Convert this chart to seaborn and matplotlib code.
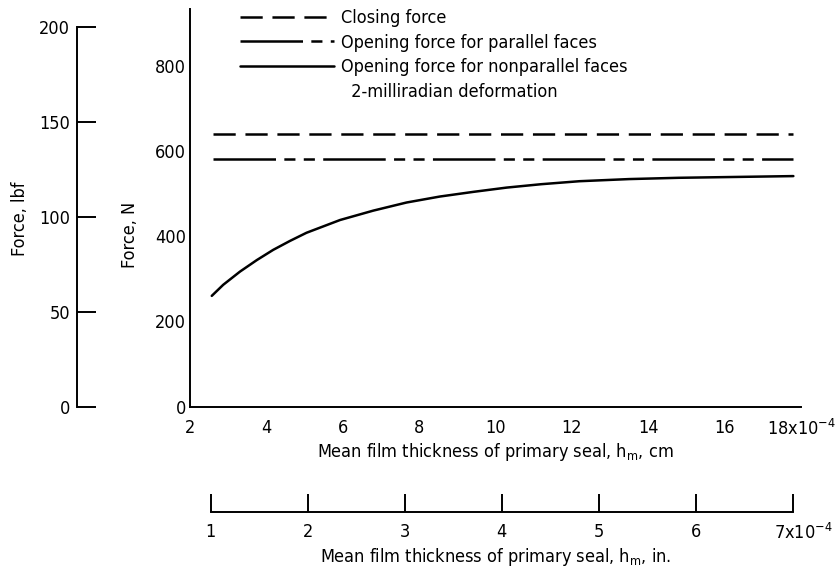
import numpy as np
import pandas as pd
import matplotlib
matplotlib.use('Agg')
import matplotlib.pyplot as plt
import matplotlib.transforms as mtransforms
from matplotlib.lines import Line2D
import seaborn as sns

sns.set_theme(style='white')
plt.rcParams['font.family'] = ['Liberation Sans Narrow', 'DejaVu Sans']
plt.rcParams['font.stretch'] = 'condensed'
plt.rcParams['mathtext.default'] = 'regular'
plt.rcParams['lines.scale_dashes'] = False
plt.rcParams['text.color'] = 'black'
plt.rcParams['axes.labelcolor'] = 'black'

# mean film thickness, x1e-4 cm  /  force, N
h_cm = [2.57, 2.87, 3.31, 3.75, 4.18, 4.62, 5.05, 5.93, 6.80, 7.67, 8.54,
        9.42, 10.29, 11.2, 12.2, 13.5, 14.8, 16.3, 17.8]
open_nonpar = [260, 286, 317, 344, 368, 389, 408, 438, 460, 479, 493,
               504, 514, 522, 529, 534, 537, 539, 541]
h_flat = [2.6, 17.8]
closing = [639, 639]
open_par = [582, 582]

x_ticks_cm = [2, 4, 6, 8, 10, 12, 14, 16, 18]
x_labels_cm = ['2', '4', '6', '8', '10', '12', '14', '16', '18x10$^{-4}$']
x_ticks_in = [1, 2, 3, 4, 5, 6, 7]
x_labels_in = ['1', '2', '3', '4', '5', '6', '7x10$^{-4}$']
y_ticks_N = [0, 200, 400, 600, 800]
y_ticks_lbf = [0, 50, 100, 150, 200]

N_PER_LBF = 4.448
CM_PER_IN = 2.54
FS = 13

df_curve = pd.DataFrame({'h': h_cm, 'F': open_nonpar})

fig = plt.figure(figsize=(8.4, 5.73), dpi=100)
ax = fig.add_axes([190/840, 166.3/573, 611/840, 397.7/573])

sns.lineplot(x=h_flat, y=closing, ax=ax, color='black', lw=1.8,
             linestyle=(0, (16, 7)))
sns.lineplot(x=h_flat, y=open_par, ax=ax, color='black', lw=1.8,
             linestyle=(0, (45, 6, 8, 6, 8, 6)))
sns.lineplot(data=df_curve, x='h', y='F', ax=ax, color='black', lw=1.8)

handles = list(ax.lines[:3]) + [Line2D([], [], color='none')]
labels = ['Closing force', 'Opening force for parallel faces',
          'Opening force for nonparallel faces', '  2-milliradian deformation']
ax.legend(handles=handles, labels=labels, loc='upper left',
          bbox_to_anchor=(0.082, 1.0), frameon=False, handlelength=5.2,
          handletextpad=0.4, labelspacing=0.37, borderpad=0,
          borderaxespad=0, fontsize=FS)

ax.set_xlim(2, 18)
ax.set_ylim(0, 933)
ax.set_xticks(x_ticks_cm)
ax.set_xticklabels(x_labels_cm)
ax.set_yticks(y_ticks_N)
ax.tick_params(direction='in', width=1.4, labelsize=FS, colors='black')
ax.tick_params(axis='x', length=15, pad=9)
ax.tick_params(axis='y', length=14, pad=3)
for s in ['top', 'right']:
    ax.spines[s].set_visible(False)
for s in ['left', 'bottom']:
    ax.spines[s].set_color('black')
    ax.spines[s].set_linewidth(1.4)
ax.set_xlabel('Mean film thickness of primary seal, h$_m$, cm', fontsize=FS)
ax.xaxis.set_label_coords(0.5, -0.086)
ax.set_ylabel('Force, N', fontsize=FS)
ax.yaxis.set_label_coords(-0.0835, 0.432)

# lbf axis on the far left
sec_y = ax.secondary_yaxis(-0.185, functions=(lambda n: n / N_PER_LBF,
                                               lambda f: f * N_PER_LBF))
sec_y.set_yticks(y_ticks_lbf)
sec_y.tick_params(direction='in', length=14, width=1.4, pad=5,
                  labelsize=FS, colors='black')
sec_y.spines['left'].set_bounds(0, 200)
sec_y.spines['left'].set_linewidth(1.4)
sec_y.spines['left'].set_color('black')
sec_y.set_ylabel('Force, lbf', fontsize=FS)
sec_y.yaxis.set_label_coords(-0.2635, 0.472, transform=ax.transAxes)

# inch axis below
sec_x = ax.secondary_xaxis(-0.264, functions=(lambda c: c / CM_PER_IN,
                                               lambda i: i * CM_PER_IN))
sec_x.set_xticks(x_ticks_in)
sec_x.set_xticklabels(x_labels_in)
sec_x.tick_params(direction='in', length=13, width=1.4, pad=8,
                  labelsize=FS, colors='black')
sec_x.spines['bottom'].set_bounds(1, 7)
sec_x.spines['bottom'].set_linewidth(1.4)
sec_x.spines['bottom'].set_color('black')
sec_x.set_xlabel('Mean film thickness of primary seal, h$_m$, in.', fontsize=FS)
sec_x.xaxis.set_label_coords(0.5, -0.350, transform=ax.transAxes)

# nudge the exponent label right, as in the original
lab = sec_x.get_xticklabels()[-1]
lab.set_transform(lab.get_transform() +
                  mtransforms.ScaledTranslation(8/72, 0, fig.dpi_scale_trans))

fig.savefig('out.png', dpi=100)
